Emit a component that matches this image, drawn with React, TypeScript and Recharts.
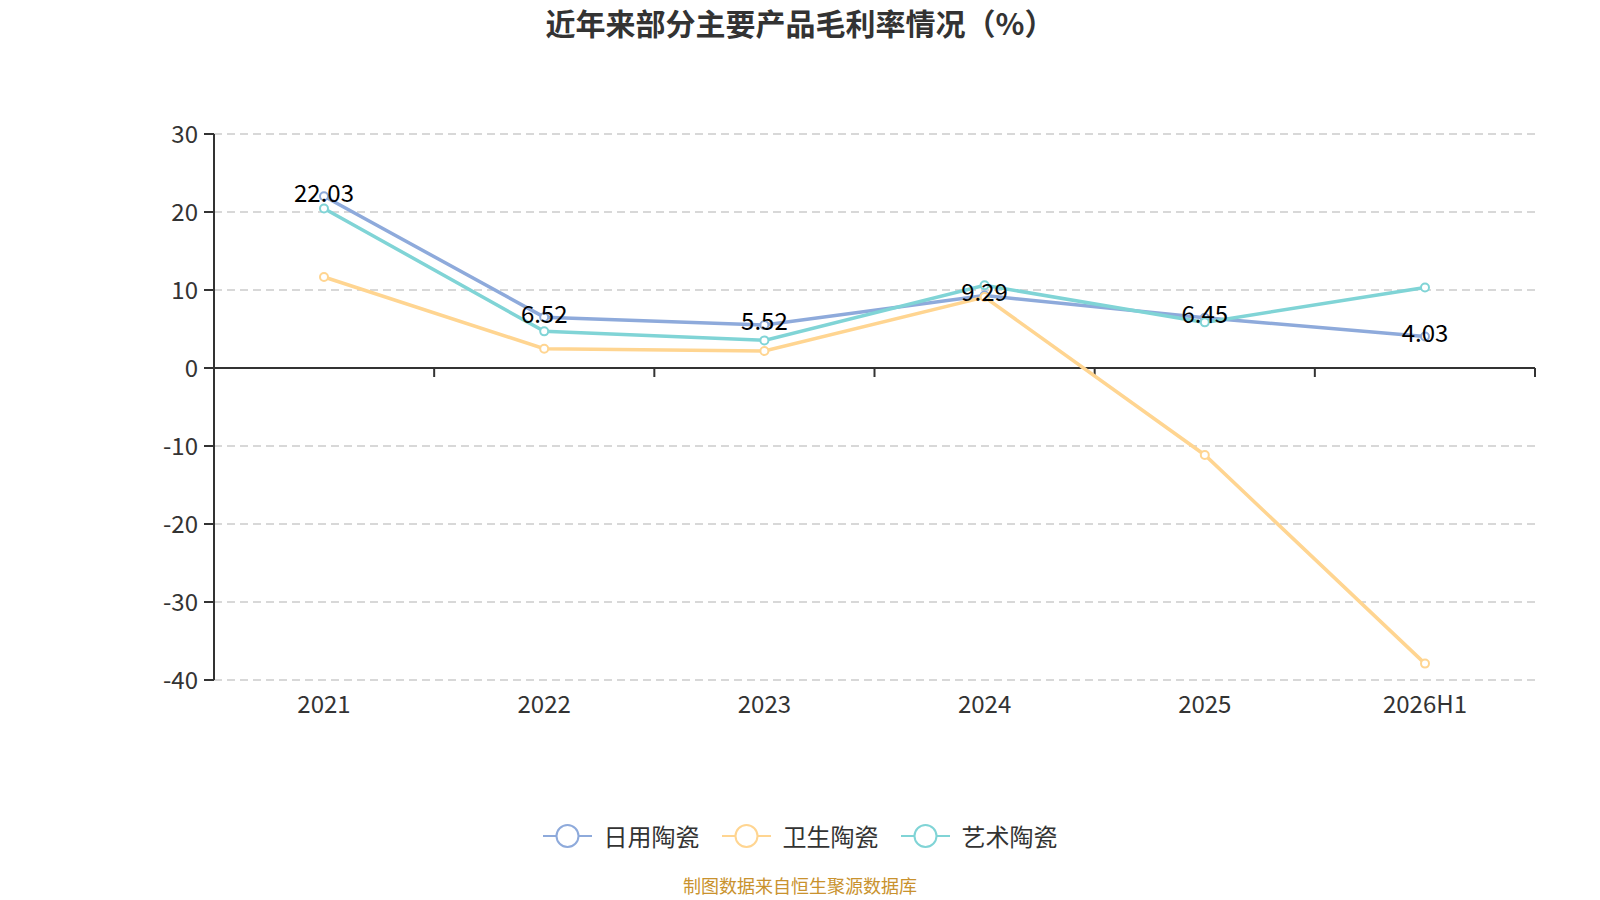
import React from "react";
import {
  LineChart,
  Line,
  XAxis,
  YAxis,
  CartesianGrid,
  ReferenceLine,
  LabelList,
  Legend,
} from "recharts";

const categories = ["2021", "2022", "2023", "2024", "2025", "2026H1"];
const dailyUse = [22.03, 6.52, 5.52, 9.29, 6.45, 4.03];
const sanitary = [11.67, 2.47, 2.18, 9.1, -11.15, -37.9];
const art = [20.46, 4.7, 3.54, 10.6, 5.85, 10.33];
const yTicks = [-40, -30, -20, -10, 0, 10, 20, 30];

const seriesInfo = [
  { key: "daily", name: "日用陶瓷", color: "#8eaadb" },
  { key: "sanitary", name: "卫生陶瓷", color: "#ffd591" },
  { key: "art", name: "艺术陶瓷", color: "#80d4d6" },
];

const data = categories.map((c, i) => ({
  name: c,
  daily: dailyUse[i],
  sanitary: sanitary[i],
  art: art[i],
}));

const FONT = '"Noto Sans CJK SC", "Noto Sans", sans-serif';

// zero line with small ticks between categories
const ZeroAxis = (props: any) => {
  const { x1, x2, y1 } = props;
  const step = (x2 - x1) / categories.length;
  const ticks = [];
  for (let i = 1; i <= categories.length; i++) {
    const tx = x1 + step * i;
    ticks.push(
      <line key={i} x1={tx} x2={tx} y1={y1} y2={y1 + 9} stroke="#333" strokeWidth={2} />
    );
  }
  return (
    <g>
      <line x1={x1} x2={x2} y1={y1} y2={y1} stroke="#333" strokeWidth={2} />
      {ticks}
    </g>
  );
};

const LegendContent = () => (
  <div
    style={{
      display: "flex",
      justifyContent: "center",
      alignItems: "center",
      gap: 22,
      fontFamily: FONT,
    }}
  >
    {seriesInfo.map((s) => (
      <div key={s.key} style={{ display: "flex", alignItems: "center" }}>
        <svg width={49} height={26}>
          <line x1={0} x2={49} y1={13} y2={13} stroke={s.color} strokeWidth={2} />
          <circle cx={24.5} cy={13} r={11} fill="#fff" stroke={s.color} strokeWidth={2} />
        </svg>
        <span style={{ marginLeft: 12, fontSize: 24, color: "#333", lineHeight: "26px" }}>
          {s.name}
        </span>
      </div>
    ))}
  </div>
);

const App = () => {
  return (
    <div
      style={{
        position: "absolute",
        left: 0,
        top: 0,
        width: 1600,
        height: 900,
        background: "#fff",
        fontFamily: FONT,
        overflow: "hidden",
      }}
    >
      <div
        style={{
          position: "absolute",
          top: 4,
          left: 0,
          width: 1600,
          textAlign: "center",
          fontSize: 30,
          fontWeight: "bold",
          color: "#333",
          lineHeight: "36px",
        }}
      >
        近年来部分主要产品毛利率情况（%）
      </div>
      <LineChart
        width={1600}
        height={900}
        data={data}
        margin={{ top: 134, right: 65, left: 0, bottom: 160 }}
        style={{ fontFamily: FONT }}
      >
        <CartesianGrid
          horizontal={true}
          vertical={false}
          stroke="#cccccc"
          strokeDasharray="8 5"
          strokeWidth={1.5}
        />
        <XAxis
          dataKey="name"
          axisLine={false}
          tickLine={false}
          padding={{ left: 110, right: 110 }}
          tickMargin={10}
          height={60}
          tick={{ fill: "#333", fontSize: 24 }}
        />
        <YAxis
          domain={[-40, 30]}
          ticks={yTicks}
          width={214}
          axisLine={{ stroke: "#333", strokeWidth: 2 }}
          tickLine={{ stroke: "#333", strokeWidth: 2 }}
          tickSize={10}
          tickMargin={6}
          tick={{ fill: "#333", fontSize: 24 }}
        />
        <ReferenceLine y={0} shape={ZeroAxis} />
        <Legend
          layout="horizontal"
          verticalAlign="middle"
          align="center"
          content={LegendContent}
          wrapperStyle={{ top: 823, left: 0, width: 1600 }}
        />
        <Line
          dataKey="daily"
          name="日用陶瓷"
          type="linear"
          stroke="#8eaadb"
          strokeWidth={3.5}
          dot={{ r: 4, fill: "#fff", stroke: "#8eaadb", strokeWidth: 2 }}
          isAnimationActive={false}
        >
          <LabelList dataKey="daily" position="center" dy={-3} fill="#000" fontSize={24} />
        </Line>
        <Line
          dataKey="sanitary"
          name="卫生陶瓷"
          type="linear"
          stroke="#ffd591"
          strokeWidth={3.5}
          dot={{ r: 4, fill: "#fff", stroke: "#ffd591", strokeWidth: 2 }}
          isAnimationActive={false}
        />
        <Line
          dataKey="art"
          name="艺术陶瓷"
          type="linear"
          stroke="#80d4d6"
          strokeWidth={3.5}
          dot={{ r: 4, fill: "#fff", stroke: "#80d4d6", strokeWidth: 2 }}
          isAnimationActive={false}
        />
      </LineChart>
      <div
        style={{
          position: "absolute",
          top: 875,
          left: 0,
          width: 1600,
          textAlign: "center",
          fontSize: 18,
          color: "#c9922e",
          lineHeight: "20px",
        }}
      >
        制图数据来自恒生聚源数据库
      </div>
    </div>
  );
};

export default App;
